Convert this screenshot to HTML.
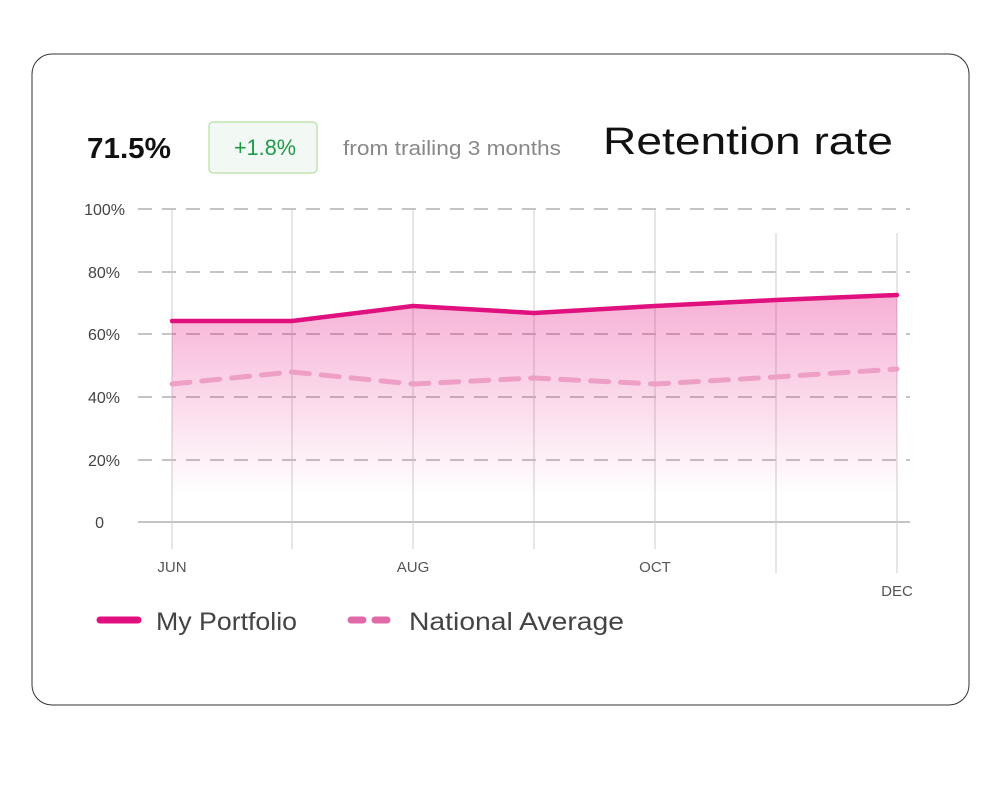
<!DOCTYPE html>
<html><head><style>
body{margin:0;background:#fff;width:1000px;height:800px;overflow:hidden;font-family:"Liberation Sans",sans-serif}
</style></head><body>
<svg width="1000" height="800" xmlns="http://www.w3.org/2000/svg" font-family="Liberation Sans, sans-serif">
<defs><linearGradient id="g" x1="0" y1="0" x2="0" y2="1"><stop offset="0" stop-color="#e5107f" stop-opacity="0.33"/><stop offset="1" stop-color="#e5107f" stop-opacity="0"/></linearGradient></defs>
<rect x="32" y="54" width="937" height="651" rx="20" fill="#fff" stroke="#333" stroke-width="1"/>
<text x="87" y="158" font-size="29" font-weight="bold" fill="#111" textLength="84" lengthAdjust="spacingAndGlyphs">71.5%</text>
<rect x="209" y="122" width="108" height="51" rx="4" fill="#f2f8f3" stroke="#a8d88a"/>
<text x="234" y="155" font-size="22" fill="#1f9a4a" textLength="62" lengthAdjust="spacingAndGlyphs">+1.8%</text>
<text x="343" y="155" font-size="20" fill="#888" textLength="218" lengthAdjust="spacingAndGlyphs">from trailing 3 months</text>
<text x="603" y="154" font-size="38" fill="#111" textLength="290" lengthAdjust="spacingAndGlyphs">Retention rate</text>
<g stroke="#888" stroke-width="1" stroke-dasharray="14,10">
<line x1="138" y1="209" x2="910" y2="209"/><line x1="138" y1="272" x2="910" y2="272"/><line x1="138" y1="334" x2="910" y2="334"/><line x1="138" y1="397" x2="910" y2="397"/><line x1="138" y1="460" x2="910" y2="460"/></g>
<line x1="138" y1="522" x2="910" y2="522" stroke="#888"/>
<g stroke="#ccc" stroke-width="1">
<line x1="172" y1="209" x2="172" y2="549"/><line x1="292" y1="209" x2="292" y2="549"/><line x1="413" y1="209" x2="413" y2="549"/><line x1="534" y1="209" x2="534" y2="549"/><line x1="655" y1="209" x2="655" y2="549"/><line x1="776" y1="233" x2="776" y2="573"/><line x1="897" y1="233" x2="897" y2="573"/></g>
<g font-size="16" fill="#444" text-anchor="end">
<text x="125" y="215">100%</text><text x="120" y="278">80%</text><text x="120" y="340">60%</text><text x="120" y="403">40%</text><text x="120" y="466">20%</text><text x="104" y="528">0</text></g>
<g font-size="15" fill="#555" text-anchor="middle">
<text x="172" y="572">JUN</text><text x="413" y="572">AUG</text><text x="655" y="572">OCT</text><text x="897" y="596">DEC</text></g>
<polygon points="172,321 292,321 413,306 534,313 655,306 776,300 897,295 897,495 172,495" fill="url(#g)"/>
<polyline points="172,384 292,372 413,384 534,378 655,384 776,377 897,369" fill="none" stroke="#ee9fc5" stroke-width="5" stroke-dasharray="18,12" stroke-linecap="round"/>
<polyline points="172,321 292,321 413,306 534,313 655,306 776,300 897,295" fill="none" stroke="#e0107f" stroke-width="4.5" stroke-linecap="round" stroke-linejoin="round"/>
<line x1="100" y1="620" x2="138" y2="620" stroke="#e0107f" stroke-width="7" stroke-linecap="round"/>
<text x="156" y="630" font-size="25" fill="#444" textLength="141" lengthAdjust="spacingAndGlyphs">My Portfolio</text>
<line x1="351" y1="620" x2="363" y2="620" stroke="#e06aa8" stroke-width="7" stroke-linecap="round"/>
<line x1="375" y1="620" x2="387" y2="620" stroke="#e06aa8" stroke-width="7" stroke-linecap="round"/>
<text x="409" y="630" font-size="25" fill="#444" textLength="215" lengthAdjust="spacingAndGlyphs">National Average</text>
</svg>
</body></html>
